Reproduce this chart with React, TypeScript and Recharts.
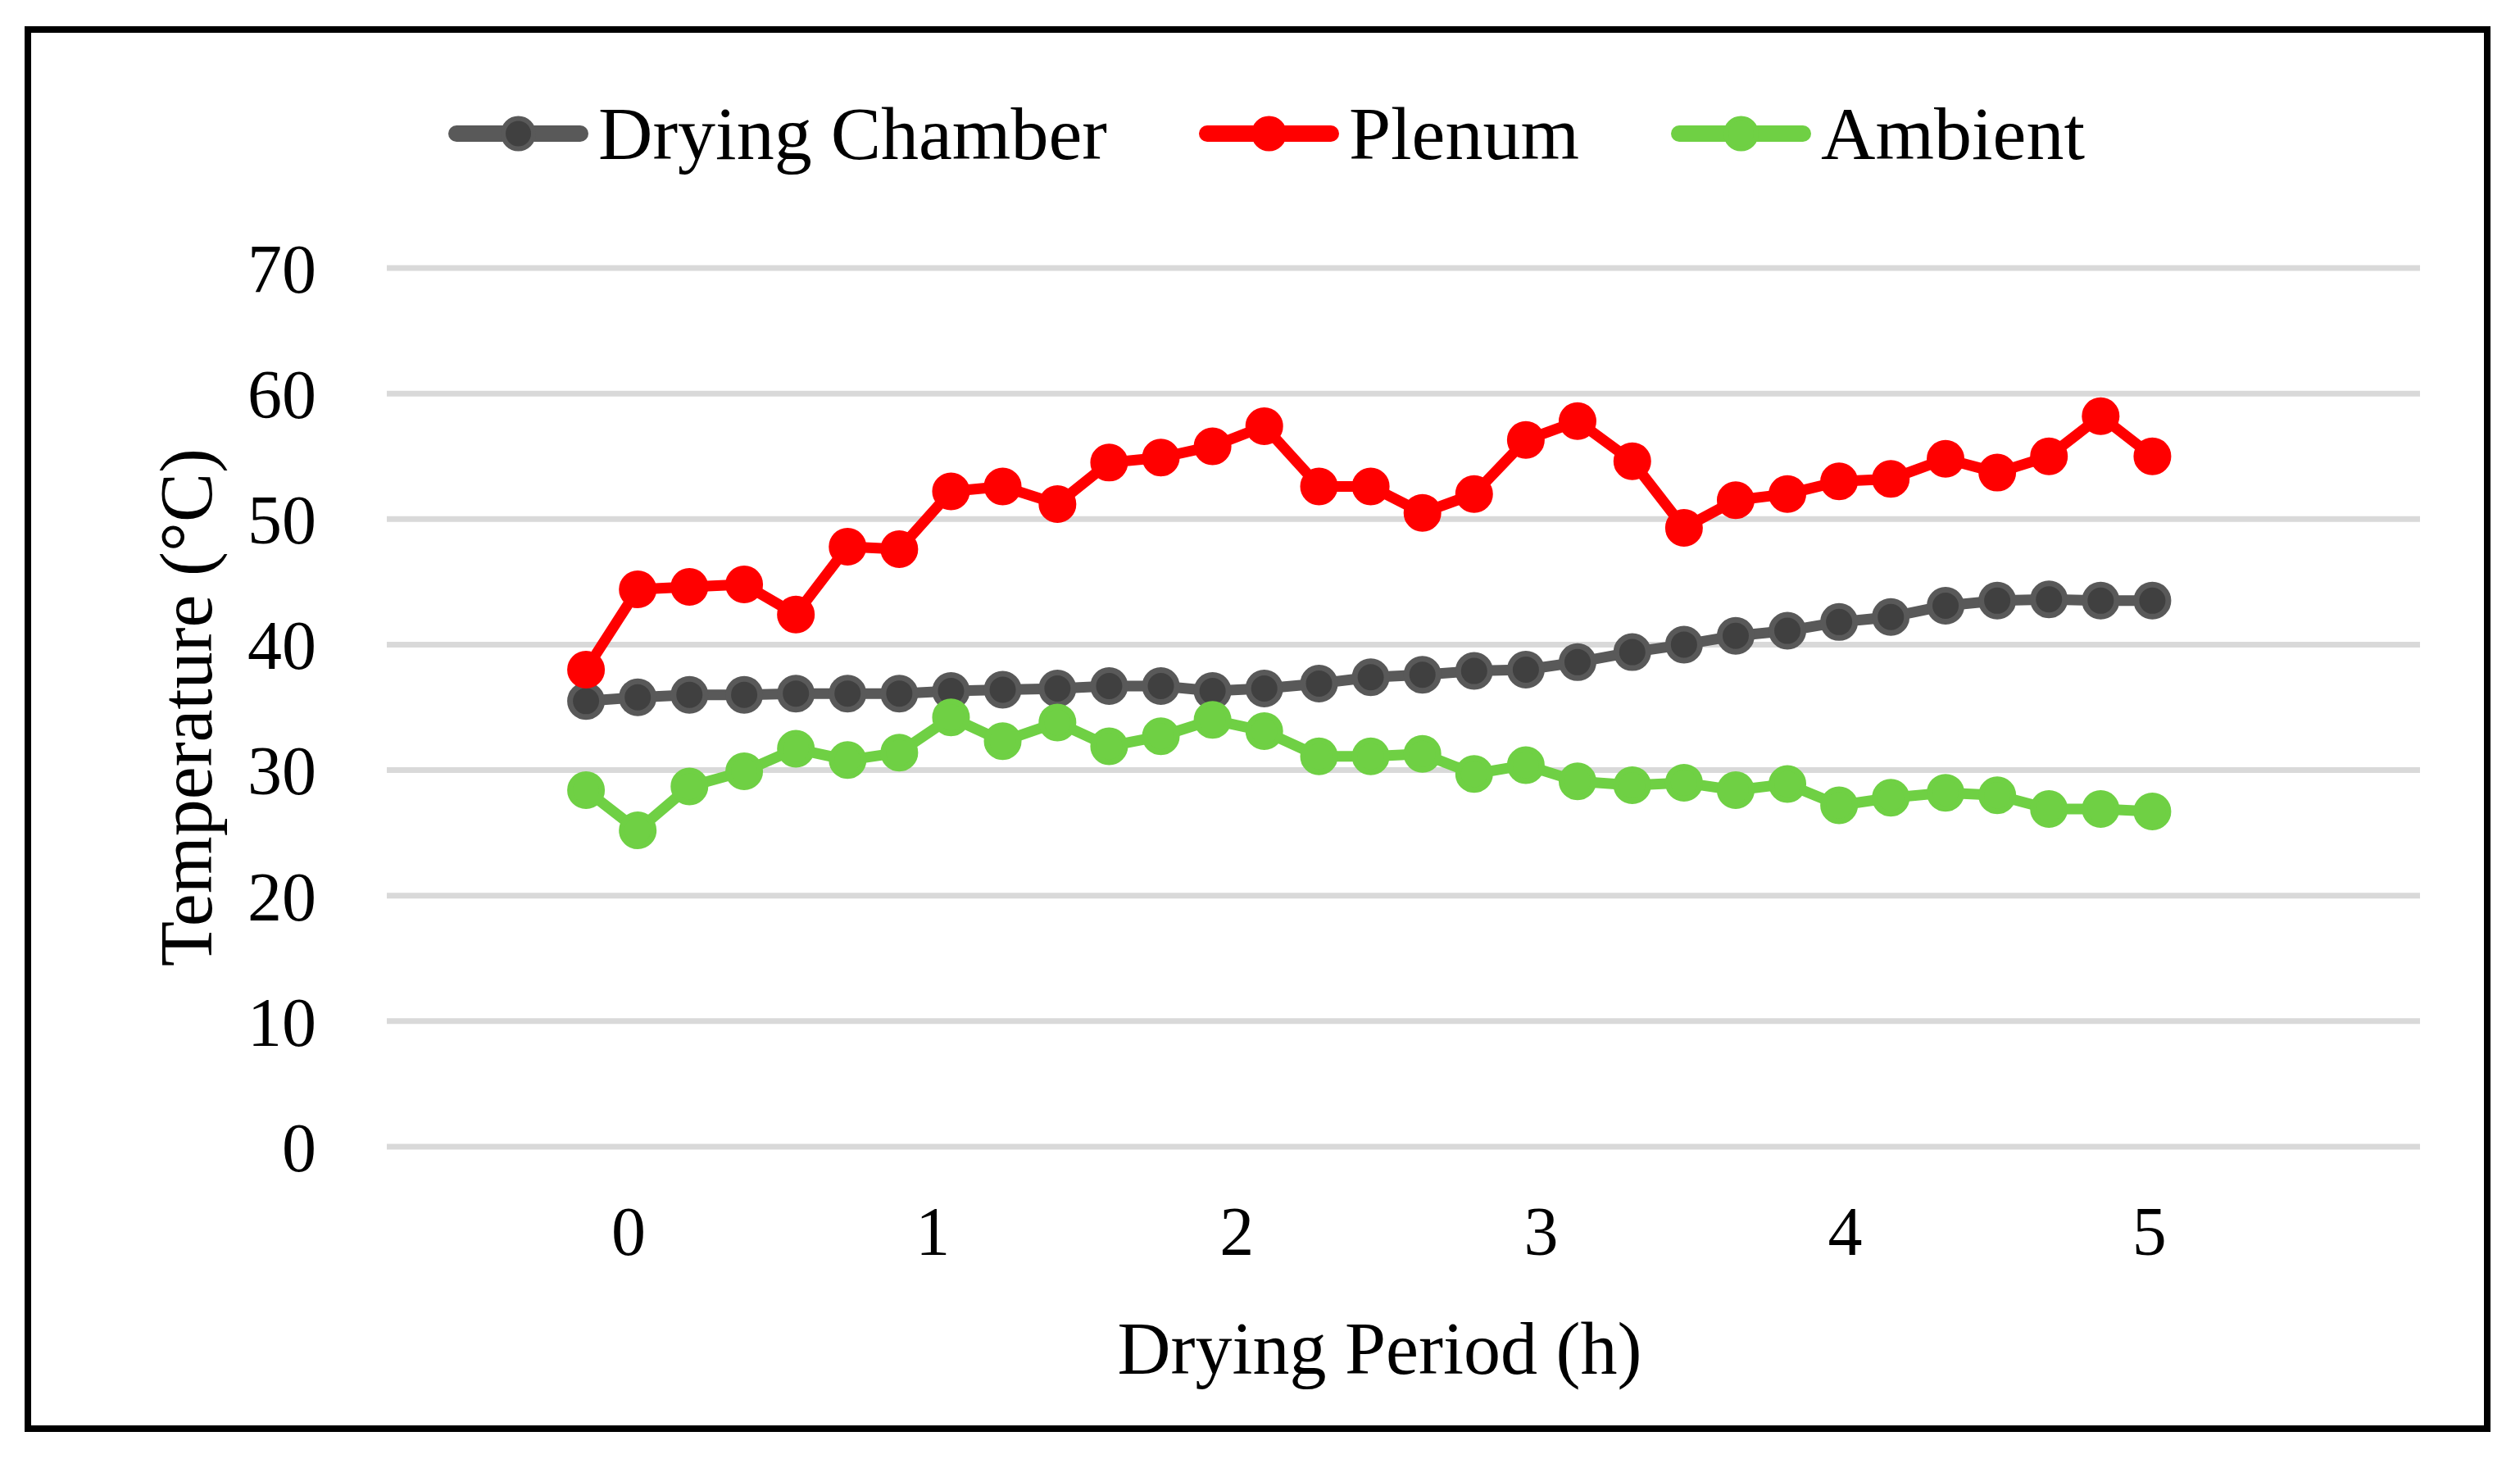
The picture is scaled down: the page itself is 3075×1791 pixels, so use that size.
import React from 'react';
import { LineChart, Line, XAxis, YAxis, CartesianGrid, Legend } from 'recharts';

// drying time of each reading (h)
const hours = [
    -0.14, 0.03, 0.20, 0.38, 0.55, 0.72, 0.89, 1.06, 1.23, 1.41, 1.58,
    1.75, 1.92, 2.09, 2.27, 2.44, 2.61, 2.78, 2.95, 3.12, 3.30, 3.47,
    3.64, 3.81, 3.98, 4.15, 4.33, 4.50, 4.67, 4.84, 5.01,
];

const chamber = [
    35.5, 35.8, 36.0, 36.0, 36.1, 36.1, 36.1, 36.3, 36.4, 36.5, 36.7,
    36.7, 36.3, 36.5, 36.9, 37.4, 37.6, 37.9, 38.0, 38.6, 39.4, 40.0,
    40.7, 41.1, 41.8, 42.2, 43.1, 43.5, 43.6, 43.5, 43.5,
];

const plenum = [
    38.0, 44.4, 44.6, 44.8, 42.4, 47.8, 47.6, 52.2, 52.6, 51.2, 54.5,
    54.9, 55.8, 57.4, 52.6, 52.6, 50.5, 52.0, 56.3, 57.8, 54.6, 49.3,
    51.5, 52.0, 53.0, 53.2, 54.8, 53.7, 55.0, 58.2, 55.0,
];

const ambient = [
    28.4, 25.2, 28.7, 29.9, 31.7, 30.8, 31.4, 34.2, 32.3, 33.8, 31.9,
    32.7, 34.0, 33.1, 31.1, 31.1, 31.3, 29.7, 30.4, 29.1, 28.8, 29.0,
    28.4, 28.9, 27.2, 27.8, 28.2, 28.0, 26.9, 26.9, 26.7,
];

const xTicks = [0, 1, 2, 3, 4, 5];
const yTicks = [0, 10, 20, 30, 40, 50, 60, 70];

const series = [
    { key: 'chamber', name: 'Drying Chamber', color: '#595959', dotFill: '#404040' },
    { key: 'plenum', name: 'Plenum', color: '#ff0000', dotFill: '#ff0000' },
    { key: 'ambient', name: 'Ambient', color: '#6fd044', dotFill: '#6fd044' },
];

const data = hours.map((t, i) => ({
    t,
    chamber: chamber[i],
    plenum: plenum[i],
    ambient: ambient[i],
}));

const FONT = "'Liberation Serif', 'Times New Roman', serif";

const LegendContent = () => (
    <div style={{ display: 'flex', alignItems: 'center', gap: 112, height: 120, fontFamily: FONT, fontSize: 92, color: '#000' }}>
        {series.map((s) => (
            <div key={s.key} style={{ display: 'flex', alignItems: 'center', gap: 12 }}>
                <svg width={171} height={52}>
                    <line x1={10} y1={26} x2={161} y2={26} stroke={s.color} strokeWidth={20} strokeLinecap="round" />
                    <circle cx={85.5} cy={26} r={18.5} fill={s.dotFill} stroke={s.color} strokeWidth={6} />
                </svg>
                <span style={{ lineHeight: 1, whiteSpace: 'nowrap' }}>{s.name}</span>
            </div>
        ))}
    </div>
);

export default function App() {
    return (
        <div style={{ position: 'absolute', left: 0, top: 0, width: 3075, height: 1791, background: '#fff' }}>
            <LineChart
                width={3075}
                height={1791}
                data={data}
                margin={{ top: 327, right: 122, bottom: 92, left: 172 }}
            >
                <CartesianGrid stroke="#d9d9d9" strokeWidth={7} vertical={false} />
                <XAxis
                    type="number"
                    dataKey="t"
                    domain={[-0.795, 5.89]}
                    ticks={xTicks}
                    allowDataOverflow
                    axisLine={false}
                    tickLine={false}
                    tickSize={0}
                    tickMargin={72}
                    height={300}
                    tick={{ fill: '#000', fontSize: 84, fontFamily: FONT }}
                    label={{
                        value: 'Drying Period (h)',
                        position: 'insideBottom',
                        offset: 23,
                        dx: -29,
                        style: { fill: '#000', fontSize: 90, fontFamily: FONT },
                    }}
                />
                <YAxis
                    domain={[0, 70]}
                    ticks={yTicks}
                    axisLine={false}
                    tickLine={false}
                    tickSize={0}
                    tickMargin={86}
                    width={300}
                    tick={{ fill: '#000', fontSize: 84, fontFamily: FONT }}
                    label={{
                        value: 'Temperature (°C)',
                        angle: -90,
                        position: 'insideLeft',
                        offset: 54,
                        style: { textAnchor: 'middle', fill: '#000', fontSize: 90, fontFamily: FONT },
                    }}
                />
                <Legend
                    layout="horizontal"
                    verticalAlign="middle"
                    align="center"
                    content={<LegendContent />}
                    wrapperStyle={{ left: 547, top: 103, width: 2300, height: 120 }}
                />
                {series.map((s) => (
                    <Line
                        key={s.key}
                        type="linear"
                        dataKey={s.key}
                        name={s.name}
                        stroke={s.color}
                        strokeWidth={13}
                        strokeLinejoin="round"
                        dot={{ r: 19.5, fill: s.dotFill, stroke: s.color, strokeWidth: 7 }}
                        activeDot={false}
                        isAnimationActive={false}
                    />
                ))}
            </LineChart>
            <div
                style={{
                    position: 'absolute', left: 30, top: 32, width: 3009, height: 1715,
                    border: '8px solid #000', boxSizing: 'border-box', pointerEvents: 'none',
                }}
            />
        </div>
    );
}
